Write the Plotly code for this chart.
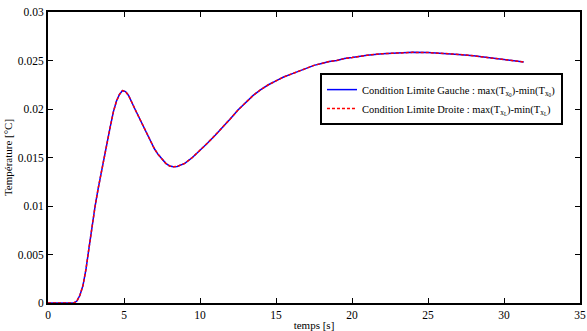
import plotly.graph_objects as go

temps = [0, 0.5, 1, 1.5, 1.7, 1.9, 2.1, 2.3, 2.5, 2.7, 2.9, 3.1, 3.3, 3.5, 3.7, 3.9, 4.1, 4.3, 4.5,
         4.7, 4.9, 5.1, 5.3, 5.5, 5.75, 6, 6.25, 6.5, 6.75, 7, 7.25, 7.5, 7.75, 8, 8.25, 8.5, 8.75,
         9, 9.5, 10, 10.5, 11, 11.5, 12, 12.5, 13, 13.5, 14, 14.5, 15, 15.5, 16, 16.5, 17, 17.5,
         18, 18.5, 19, 19.5, 20, 21, 22, 23, 24, 25, 26, 27, 28, 29, 30, 31, 31.3]
gauche = [0, 0, 0, 0, 0, 0.0002, 0.0008, 0.0018, 0.0035, 0.0057, 0.0080, 0.0100, 0.0118, 0.0133,
          0.0149, 0.0166, 0.0182, 0.0197, 0.0208, 0.0215, 0.0219, 0.0218, 0.0214, 0.0208, 0.0199,
          0.0191, 0.0183, 0.0175, 0.0167, 0.0159, 0.0153, 0.0148, 0.0144, 0.01413, 0.01405, 0.01408,
          0.0142, 0.0144, 0.0150, 0.0157, 0.0165, 0.0173, 0.0181, 0.0190, 0.0199, 0.0207, 0.0214,
          0.0220, 0.0225, 0.0229, 0.0233, 0.0236, 0.0239, 0.0242, 0.0245, 0.0247, 0.0249, 0.0250,
          0.0252, 0.0253, 0.02555, 0.0257, 0.02579, 0.02584, 0.02582, 0.02575, 0.02563, 0.02548,
          0.0253, 0.0251, 0.0249, 0.02485]
droite = list(gauche)

x_ticks = [0, 5, 10, 15, 20, 25, 30, 35]
y_ticks = [0, 0.005, 0.01, 0.015, 0.02, 0.025, 0.03]
y_labels = ["0", "0.005", "0.01", "0.015", "0.02", "0.025", "0.03"]

font = "Times New Roman, Liberation Serif, serif"

fig = go.Figure()
fig.add_trace(go.Scatter(
    x=temps, y=gauche, mode="lines",
    line=dict(color="#0000ff", width=1.5),
    name="Condition Limite Gauche : max(T<sub>x<sub>0</sub></sub>)-min(T<sub>x<sub>0</sub></sub>)"))
fig.add_trace(go.Scatter(
    x=temps, y=droite, mode="lines",
    line=dict(color="#ff0000", width=1.5, dash="3px,2px"),
    name="Condition Limite Droite : max(T<sub>x<sub>L</sub></sub>)-min(T<sub>x<sub>L</sub></sub>)"))

axis_common = dict(showgrid=False, zeroline=False, showline=True, linecolor="black", linewidth=2,
                   mirror="ticks", ticks="inside", ticklen=5, tickcolor="black", tickwidth=1,
                   automargin=False,
                   tickfont=dict(family=font, size=11.5, color="black"))

fig.update_layout(
    width=587, height=331, autosize=False,
    margin=dict(l=48, r=7, t=12, b=28),
    paper_bgcolor="white", plot_bgcolor="white",
    font=dict(family=font, size=11, color="black"),
    showlegend=True,
    legend=dict(x=0.968, y=0.79, xanchor="right", yanchor="top",
                bordercolor="black", borderwidth=2, bgcolor="white",
                font=dict(family=font, size=10.5, color="black"),
                itemwidth=30, tracegroupgap=0),
    xaxis=dict(range=[0, 35], tickvals=x_ticks, **axis_common,
               title=dict(text="temps [s]", font=dict(family=font, size=11), standoff=3)),
    yaxis=dict(range=[0, 0.03], tickvals=y_ticks, ticktext=y_labels, **axis_common,
               title=dict(text="Température [°C]", font=dict(family=font, size=11), standoff=3)),
)

fig.write_html(
    "out.html",
    config={"responsive": False, "displayModeBar": False},
    default_width="587px", default_height="331px",
    post_script="document.body.style.margin='0';document.body.style.overflow='hidden';",
)
